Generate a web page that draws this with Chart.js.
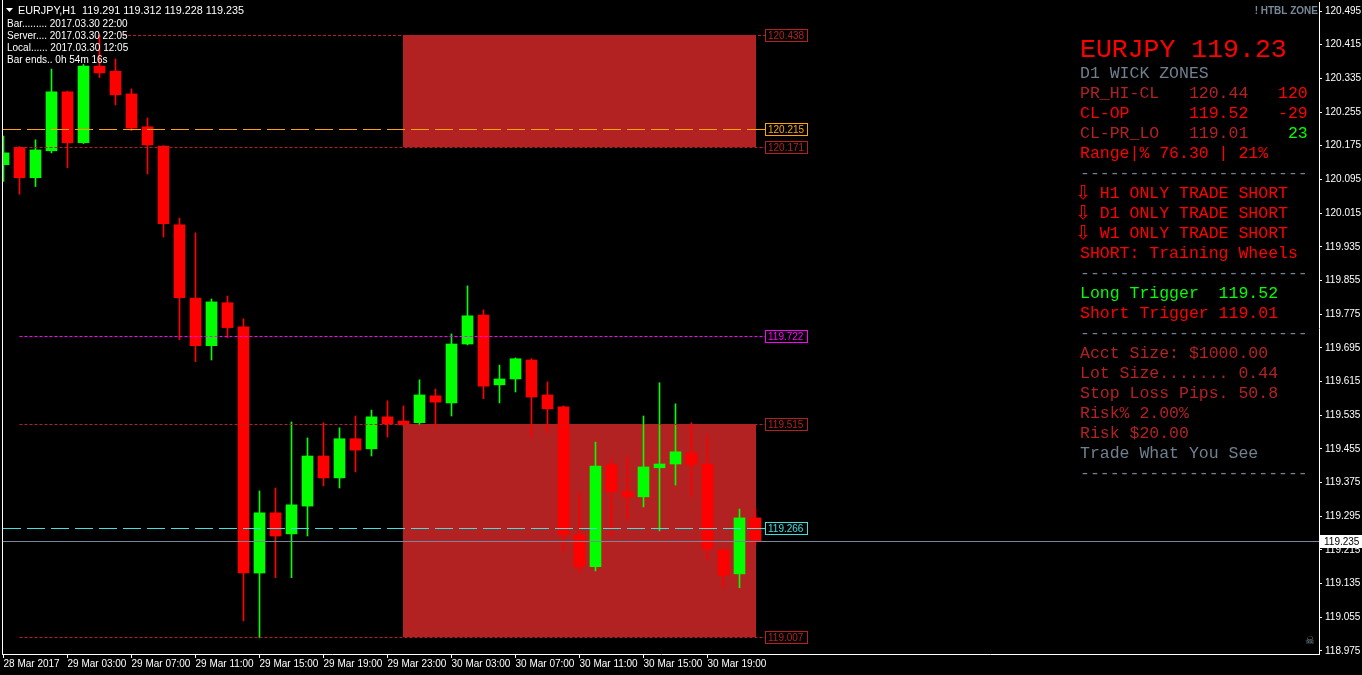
<!DOCTYPE html>
<html>
<head>
<meta charset="utf-8">
<script src="https://cdn.jsdelivr.net/npm/chart.js@4.4.1/dist/chart.umd.min.js"></script>
<style>
  html, body { margin: 0; padding: 0; background: #000; overflow: hidden; }
  canvas { display: block; }
</style>
</head>
<body>
<canvas id="chart" width="1362" height="675"></canvas>
<script>
// EURJPY H1, 28 Mar 23:00 -> 30 Mar 22:00 (48 bars)
const timeLabels = ['28 Mar 2017', '29 Mar 03:00', '29 Mar 07:00', '29 Mar 11:00', '29 Mar 15:00', '29 Mar 19:00',
  '29 Mar 23:00', '30 Mar 03:00', '30 Mar 07:00', '30 Mar 11:00', '30 Mar 15:00', '30 Mar 19:00'];
const tickBars = [0, 4, 8, 12, 16, 20, 24, 28, 32, 36, 40, 44];

const opens  = [120.130, 120.171, 120.099, 120.163, 120.303, 120.182, 120.364, 120.352, 120.298, 120.220,
                120.174, 119.987, 119.813, 119.700, 119.802, 119.745, 119.160, 119.303, 119.253, 119.319,
                119.438, 119.386, 119.479, 119.455, 119.531, 119.521, 119.517, 119.581, 119.564, 119.704,
                119.773, 119.607, 119.621, 119.666, 119.583, 119.555, 119.251, 119.175, 119.417, 119.353,
                119.341, 119.410, 119.419, 119.445, 119.419, 119.215, 119.158, 119.291];
const highs  = [120.198, 120.173, 120.189, 120.357, 120.305, 120.368, 120.438, 120.381, 120.310, 120.241,
                120.175, 120.003, 119.968, 119.811, 119.818, 119.764, 119.355, 119.362, 119.519, 119.481,
                119.517, 119.505, 119.533, 119.547, 119.569, 119.557, 119.619, 119.597, 119.728, 119.842,
                119.785, 119.654, 119.671, 119.669, 119.614, 119.557, 119.350, 119.471, 119.431, 119.436,
                119.533, 119.612, 119.562, 119.517, 119.488, 119.217, 119.312, 119.312];
const lows   = [120.090, 120.060, 120.078, 120.158, 120.123, 120.180, 120.337, 120.272, 120.211, 120.108,
                119.958, 119.714, 119.662, 119.666, 119.719, 119.046, 119.006, 119.149, 119.149, 119.248,
                119.367, 119.362, 119.400, 119.438, 119.483, 119.510, 119.512, 119.507, 119.533, 119.702,
                119.574, 119.564, 119.590, 119.483, 119.493, 119.210, 119.160, 119.165, 119.248, 119.286,
                119.317, 119.260, 119.369, 119.341, 119.191, 119.125, 119.125, 119.228];
const closes = [120.158, 120.099, 120.165, 120.303, 120.182, 120.364, 120.348, 120.296, 120.217, 120.177,
                119.990, 119.814, 119.700, 119.804, 119.743, 119.160, 119.303, 119.248, 119.322, 119.438,
                119.386, 119.479, 119.452, 119.531, 119.514, 119.512, 119.583, 119.566, 119.704, 119.771,
                119.604, 119.621, 119.669, 119.578, 119.550, 119.251, 119.175, 119.414, 119.353, 119.341,
                119.412, 119.419, 119.448, 119.417, 119.217, 119.155, 119.291, 119.235];

const priceTicks = [118.975, 119.055, 119.135, 119.215, 119.295, 119.375, 119.455, 119.535, 119.615, 119.695,
                    119.775, 119.855, 119.935, 120.015, 120.095, 120.175, 120.255, 120.335, 120.415, 120.495];

// D1 wick zones (drawn from bar 25 = 30 Mar 00:00 to the last bar)
const zoneTops    = [120.438, 119.515];
const zoneBottoms = [120.171, 119.007];
const zoneFrom = 25;
const zoneTo = 47;

// horizontal levels
const levelPrices = [120.438, 120.215, 120.171, 119.722, 119.515, 119.266, 119.007];
const levelColors = ['#b22222', '#ffa500', '#b22222', '#ff00ff', '#b22222', '#40e0e0', '#b22222'];
const levelDash   = [[3, 2], [18, 6], [3, 2], [3, 2], [3, 2], [18, 6], [3, 2]];
const levelStart  = [7.47, null, 1, 1, 1, null, 1];
const bidPrice = 119.235;

const UP = '#00ff00';
const DOWN = '#ff0000';
const barColors = closes.map((c, i) => c >= opens[i] ? UP : DOWN);

const bodies = opens.map((o, i) => {
  let lo = Math.min(o, closes[i]), hi = Math.max(o, closes[i]);
  if (hi - lo < 0.0025) hi = lo + 0.0025;
  return { x: i, y: [lo, hi] };
});
const wicks = highs.map((h, i) => ({ x: i, y: [lows[i], h] }));

const FONT = '"Liberation Sans", Arial, sans-serif';
const MONO = '"Liberation Mono", "Courier New", monospace';

// right side panel text: rows of [text, color, column]
const GREY = '#708090';
const FIRE = '#b22222';
const RED = '#ff0000';
const DASHES = '-----------------------';
const panelRows = [
  [['D1 WICK ZONES', GREY, 0]],
  [['PR_HI-CL', FIRE, 0], ['120.44', FIRE, 11], ['120', RED, 20]],
  [['CL-OP', RED, 0], ['119.52', RED, 11], ['-29', RED, 20]],
  [['CL-PR_LO', FIRE, 0], ['119.01', FIRE, 11], ['23', UP, 21]],
  [['Range|% 76.30 | 21%', RED, 0]],
  [[DASHES, GREY, 0]],
  [['H1 ONLY TRADE SHORT', RED, 2, true]],
  [['D1 ONLY TRADE SHORT', RED, 2, true]],
  [['W1 ONLY TRADE SHORT', RED, 2, true]],
  [['SHORT: Training Wheels', RED, 0]],
  [[DASHES, GREY, 0]],
  [['Long Trigger  119.52', UP, 0]],
  [['Short Trigger 119.01', RED, 0]],
  [[DASHES, GREY, 0]],
  [['Acct Size: $1000.00', FIRE, 0]],
  [['Lot Size....... 0.44', FIRE, 0]],
  [['Stop Loss Pips. 50.8', FIRE, 0]],
  [['Risk% 2.00%', FIRE, 0]],
  [['Risk $20.00', FIRE, 0]],
  [['Trade What You See', GREY, 0]],
  [[DASHES, GREY, 0]]
];

const infoLines = ['Bar......... 2017.03.30 22:00', 'Server.... 2017.03.30 22:05',
                   'Local...... 2017.03.30 12:05', 'Bar ends.. 0h 54m 16s'];

const zonePlugin = {
  id: 'zones',
  beforeDatasetsDraw(chart) {
    const { ctx, chartArea: a, scales: { x, y } } = chart;
    ctx.save();
    ctx.beginPath();
    ctx.rect(a.left, a.top, a.right - a.left, a.bottom - a.top);
    ctx.clip();
    ctx.fillStyle = '#b22222';
    const x0 = Math.round(x.getPixelForValue(zoneFrom) - 0.5);
    const x1 = Math.round(x.getPixelForValue(zoneTo) + 0.5);
    zoneTops.forEach((t, i) => {
      const y0 = Math.round(y.getPixelForValue(t));
      const y1 = Math.round(y.getPixelForValue(zoneBottoms[i]));
      ctx.fillRect(x0, y0, x1 - x0, y1 - y0);
    });
    ctx.restore();
  }
};

const overlayPlugin = {
  id: 'overlay',
  afterDraw(chart) {
    const { ctx, chartArea: a, scales: { x, y } } = chart;
    ctx.save();

    // frame left
    ctx.fillStyle = '#ffffff';
    ctx.fillRect(a.left - 1, 0, 1, a.bottom + 1);

    // level lines + price boxes
    const boxX = Math.round(x.getPixelForValue(zoneTo)) + 9;
    levelPrices.forEach((p, i) => {
      const py = Math.round(y.getPixelForValue(p)) + 0.5;
      const sx = levelStart[i] === null ? a.left : x.getPixelForValue(levelStart[i]);
      ctx.strokeStyle = levelColors[i];
      ctx.lineWidth = 1;
      ctx.setLineDash(levelDash[i]);
      ctx.beginPath();
      ctx.moveTo(sx, py);
      ctx.lineTo(boxX, py);
      ctx.stroke();
      ctx.setLineDash([]);
      ctx.fillStyle = '#000';
      ctx.fillRect(boxX, py - 6.5, 43, 13);
      ctx.strokeRect(boxX + 0.5, py - 6, 42, 12);
      ctx.fillStyle = levelColors[i];
      ctx.font = '10px ' + FONT;
      ctx.textBaseline = 'middle';
      ctx.textAlign = 'left';
      ctx.fillText(p.toFixed(3), boxX + 3, py + 0.5);
    });

    // bid line
    const by = Math.round(y.getPixelForValue(bidPrice)) + 0.5;
    ctx.strokeStyle = '#778899';
    ctx.beginPath();
    ctx.moveTo(a.left, by);
    ctx.lineTo(a.right, by);
    ctx.stroke();
    ctx.fillStyle = '#ffffff';
    ctx.fillRect(a.right + 1, by - 6.5, 43, 13);
    ctx.fillStyle = '#000';
    ctx.font = '10px ' + FONT;
    ctx.textBaseline = 'middle';
    ctx.fillText(bidPrice.toFixed(3), a.right + 5, by + 0.5);

    // top-left header
    ctx.fillStyle = '#ffffff';
    ctx.beginPath();
    ctx.moveTo(6, 8); ctx.lineTo(13, 8); ctx.lineTo(9.5, 12); ctx.closePath();
    ctx.fill();
    ctx.textBaseline = 'alphabetic';
    ctx.font = '10.8px ' + FONT;
    ctx.fillText('EURJPY,H1  119.291 119.312 119.228 119.235', 18, 14);
    ctx.font = '10px ' + FONT;
    infoLines.forEach((t, i) => ctx.fillText(t, 7, 26.5 + i * 12));

    // top-right tag
    ctx.fillStyle = '#778899';
    ctx.font = 'bold 10px ' + FONT;
    ctx.textAlign = 'right';
    ctx.fillText('! HTBL ZONE', a.right - 1, 14);
    ctx.font = '11px "DejaVu Sans"';
    ctx.textAlign = 'center';
    ctx.fillText('\u2620', 1310, 644);

    // panel
    ctx.textAlign = 'left';
    ctx.fillStyle = RED;
    ctx.font = '26.5px ' + MONO;
    ctx.fillText('EURJPY 119.23', 1080, 57);
    ctx.font = '16.5px ' + MONO;
    const cw = ctx.measureText('0').width;
    panelRows.forEach((row, k) => {
      const base = 77.5 + 20 * k;
      row.forEach(([txt, col, c, arrow]) => {
        ctx.fillStyle = col;
        if (arrow) {
          ctx.font = '19px "DejaVu Sans"';
          ctx.fillText('\u21e9', 1075, base + 1);
          ctx.font = '16.5px ' + MONO;
        }
        ctx.fillText(txt, 1080 + c * cw, base);
      });
    });
    ctx.restore();
  }
};

new Chart(document.getElementById('chart').getContext('2d'), {
  type: 'bar',
  data: {
    datasets: [
      {
        data: wicks,
        backgroundColor: barColors,
        barThickness: 1,
        borderWidth: 0,
        grouped: false,
        order: 2
      },
      {
        data: bodies,
        backgroundColor: barColors,
        barThickness: 11,
        borderWidth: 0,
        borderSkipped: false,
        grouped: false,
        order: 1
      }
    ]
  },
  options: {
    responsive: false,
    animation: false,
    events: [],
    layout: { padding: { left: 3, top: 2, right: 0, bottom: 0 } },
    plugins: { legend: { display: false }, tooltip: { enabled: false } },
    scales: {
      x: {
        type: 'linear',
        offset: false,
        min: (3 - 3.5) / 16,
        max: (1319 - 3.5) / 16,
        afterBuildTicks: s => { s.ticks = tickBars.map(v => ({ value: v })); },
        afterFit: s => { s.height = 21; s.paddingLeft = 0; s.paddingRight = 0; },
        grid: { drawOnChartArea: false, offset: false, color: '#ffffff', tickLength: 4 },
        border: { color: '#ffffff' },
        ticks: {
          color: '#ffffff',
          font: { family: FONT, size: 10 },
          align: 'start',
          padding: 0,
          maxRotation: 0,
          autoSkip: false,
          callback: v => timeLabels[tickBars.indexOf(v)]
        }
      },
      y: {
        position: 'right',
        min: 120.495 - (654 - 11) / 421,
        max: 120.495 + (11 - 2) / 421,
        afterBuildTicks: s => { s.ticks = priceTicks.map(v => ({ value: v })); },
        afterFit: s => { s.width = 43; s.paddingTop = 0; s.paddingBottom = 0; },
        grid: { drawOnChartArea: false, color: '#ffffff', tickLength: 3 },
        border: { color: '#ffffff' },
        ticks: {
          color: '#ffffff',
          font: { family: FONT, size: 10 },
          padding: 3,
          autoSkip: false,
          callback: v => v.toFixed(3)
        }
      }
    }
  },
  plugins: [zonePlugin, overlayPlugin]
});
</script>
</body>
</html>
